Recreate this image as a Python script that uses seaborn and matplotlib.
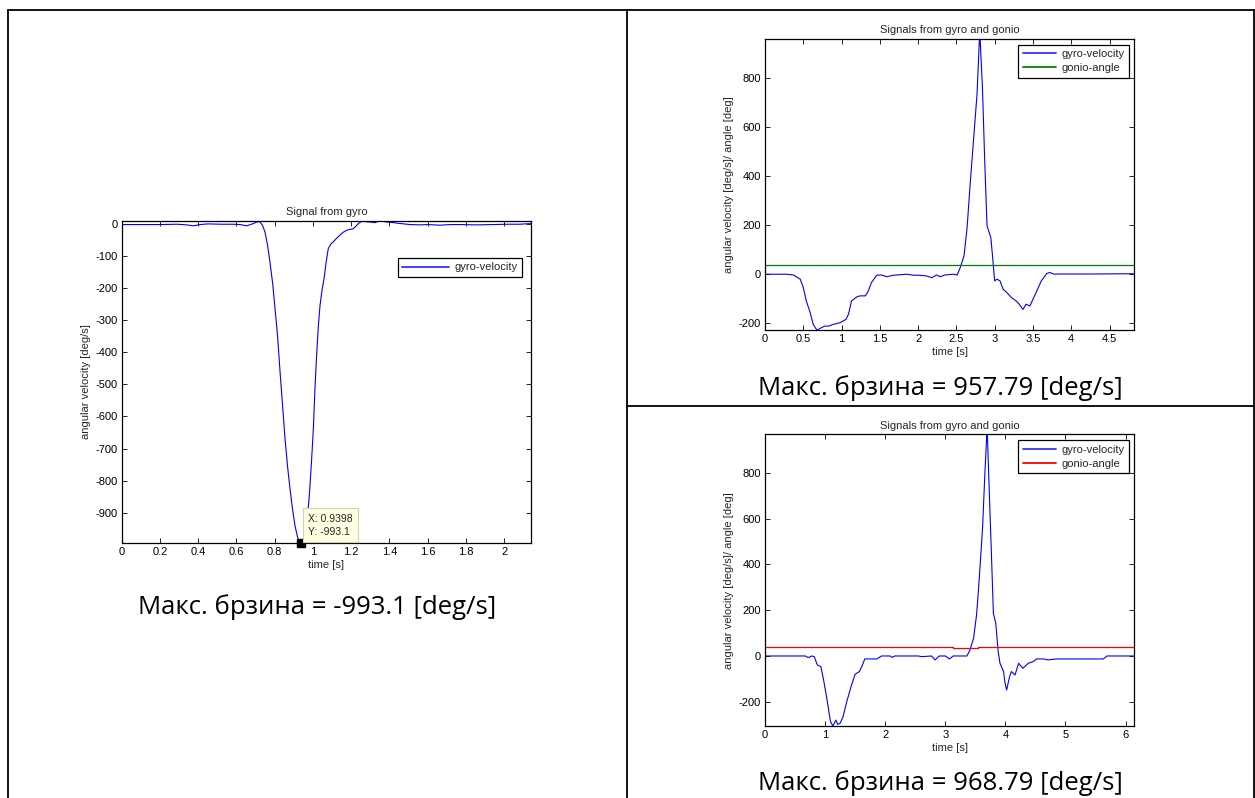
import numpy as np
import pandas as pd
import matplotlib
matplotlib.use("Agg")
import matplotlib.pyplot as plt
from matplotlib.lines import Line2D
import seaborn as sns

# ---- data ----
gyro1_t = [0, 0.10, 0.20, 0.29, 0.34, 0.375, 0.41, 0.45, 0.52, 0.584, 0.62, 0.653, 0.688, 0.71,
           0.723, 0.736, 0.749, 0.762, 0.775, 0.79, 0.80, 0.815, 0.828, 0.841, 0.854, 0.867, 0.880,
           0.893, 0.906, 0.918, 0.925, 0.9398, 0.948, 0.958, 0.970, 0.981, 0.992, 1.002, 1.010,
           1.019, 1.028, 1.037, 1.048, 1.058, 1.069, 1.080, 1.093, 1.106, 1.123, 1.141, 1.158,
           1.176, 1.193, 1.211, 1.225, 1.237, 1.255, 1.275, 1.298, 1.324, 1.350, 1.385, 1.42,
           1.46, 1.507, 1.56, 1.60, 1.664, 1.72, 1.77, 1.85, 1.94, 2.02, 2.08, 2.14]
gyro1_v = [-3, -3, -3, -2, -4, -7, -3, -1, -2, -2, -3, -7, 0, 6,
           5, -5, -26, -65, -119, -190, -254, -350, -462, -565, -670, -755, -825,
           -888, -940, -972, -985, -993.1, -985, -968, -920, -846, -745, -639, -520,
           -410, -320, -254, -205, -171, -120, -78, -64, -57, -46, -36, -27,
           -21, -18, -16, -8, 0, 7, 6, 5, 3, 9, 5, 3,
           0, -3, -4, -3, -5, -3, -3, -4, -3, -2, -2, 0]

gyro2_t = [0, 0.28, 0.37, 0.46, 0.50, 0.54, 0.59, 0.63, 0.68, 0.72, 0.78, 0.83, 0.89, 0.98, 1.06,
           1.09, 1.13, 1.20, 1.24, 1.31, 1.35, 1.39, 1.46, 1.52, 1.59, 1.68, 1.85, 1.94, 2.02,
           2.11, 2.18, 2.24, 2.29, 2.35, 2.46, 2.51, 2.55, 2.60, 2.64, 2.68, 2.72, 2.77, 2.80,
           2.81, 2.84, 2.87, 2.90, 2.95, 2.97, 3.00, 3.03, 3.07, 3.11, 3.16, 3.22, 3.29, 3.32,
           3.37, 3.41, 3.46, 3.50, 3.55, 3.61, 3.68, 3.72, 3.78, 3.83, 4.3, 4.82]
gyro2_v = [0, 0, -3, -20, -54, -109, -156, -204, -228, -220, -211, -211, -204, -197, -183,
           -163, -109, -92, -88, -88, -68, -34, -4, -3, -10, -4, 0, -4, -4,
           -7, -14, -3, -10, -3, 0, -3, 27, 75, 190, 367, 530, 734, 951,
           957.79, 761, 462, 197, 149, 81, -27, -20, -27, -61, -75, -95, -111, -122,
           -143, -122, -129, -102, -68, -27, 3, 7, 0, 1, 1, 2]
gonio2_t = [0, 4.82]
gonio2_v = [37, 37]

gyro3_t = [0, 0.67, 0.72, 0.78, 0.82, 0.87, 0.93, 0.97, 1.01, 1.05, 1.09, 1.13, 1.18, 1.21,
           1.25, 1.30, 1.36, 1.44, 1.50, 1.57, 1.61, 1.66, 1.86, 1.94, 2.08, 2.12, 2.16, 2.55,
           2.61, 2.77, 2.83, 2.90, 3.00, 3.07, 3.13, 3.36, 3.41, 3.47, 3.52, 3.55, 3.58, 3.62,
           3.66, 3.69, 3.70, 3.73, 3.77, 3.80, 3.84, 3.88, 3.91, 3.97, 3.99, 4.02, 4.07, 4.10,
           4.16, 4.22, 4.29, 4.38, 4.46, 4.52, 4.63, 4.71, 4.85, 5.63, 5.69, 6.14]
gyro3_v = [0, 0, -7, 0, -3, -39, -47, -98, -156, -221, -287, -306, -280, -299,
           -294, -265, -200, -127, -80, -68, -47, -13, -13, 0, 0, -6, 0, 0,
           -3, 0, -17, 0, 0, -13, 0, 0, 26, 77, 179, 281, 398, 558,
           806, 966, 968.79, 733, 427, 187, 143, 19, -32, -68, -112, -149, -90, -68,
           -83, -32, -54, -32, -25, -13, -13, -17, -13, -13, 0, 0]
gonio3_t = [0, 1.80, 1.80, 3.12, 3.12, 3.55, 3.55, 6.14]
gonio3_v = [38, 38, 41, 41, 35, 35, 39, 39]

x1_ticks = [0, 0.2, 0.4, 0.6, 0.8, 1, 1.2, 1.4, 1.6, 1.8, 2]
y1_ticks = [0, -100, -200, -300, -400, -500, -600, -700, -800, -900]
x2_ticks = [0, 0.5, 1, 1.5, 2, 2.5, 3, 3.5, 4, 4.5]
x3_ticks = [0, 1, 2, 3, 4, 5, 6]
y23_ticks = [-200, 0, 200, 400, 600, 800]

tip_x, tip_y = 0.9398, -993.1
captions = ["Макс. брзина = -993.1 [deg/s]",
            "Макс. брзина = 957.79 [deg/s]",
            "Макс. брзина = 968.79 [deg/s]"]

# ---- style ----
sns.set_theme(style="white")
plt.rcParams["font.family"] = ["Liberation Sans", "DejaVu Sans"]
plt.rcParams["axes.unicode_minus"] = False

W, H = 1255, 798
FS = 8
fig = plt.figure(figsize=(W / 100, H / 100), dpi=100)
fig.patch.set_facecolor("white")


def px_axes(x0, y0, x1, y1):
    return fig.add_axes([x0 / W, 1 - y1 / H, (x1 - x0) / W, (y1 - y0) / H])


def style(ax, xt, yt, t, v):
    ax.set_xlim(min(t), max(t))
    ax.set_ylim(min(v), max(v))
    ax.set_xticks(xt)
    ax.set_xticklabels(["%g" % a for a in xt])
    ax.set_yticks(yt)
    ax.set_yticklabels(["%g" % a for a in yt])
    ax.tick_params(direction="in", length=3.5, width=0.6, labelsize=FS, pad=3,
                   top=True, right=True, bottom=True, left=True, colors="black")
    for s in ax.spines.values():
        s.set_visible(True)
        s.set_linewidth(0.9)
        s.set_color("black")
    ax.set_xlabel("time [s]", fontsize=FS, labelpad=2)


def legend(ax, ax_x, ax_y, hl, colors, labels):
    handles = [Line2D([], [], color=c, linewidth=1.3) for c in colors]
    lg = ax.legend(handles, labels, loc="upper right", bbox_to_anchor=(ax_x, ax_y),
                   borderaxespad=0, fontsize=FS, frameon=True, fancybox=False, framealpha=1,
                   handlelength=hl, borderpad=0.4, labelspacing=0.35, handletextpad=0.5)
    lg.get_frame().set_edgecolor("black")
    lg.get_frame().set_linewidth(0.9)


# left: single gyro signal
ax1 = px_axes(121.7, 220.7, 531, 542.7)
df1 = pd.DataFrame({"t": gyro1_t, "v": gyro1_v})
sns.lineplot(data=df1, x="t", y="v", ax=ax1, color="#0000ff", linewidth=0.8,
             sort=False, estimator=None, legend=False)
style(ax1, x1_ticks, y1_ticks, gyro1_t, gyro1_v)
ax1.set_title("Signal from gyro", fontsize=FS, pad=4)
ax1.set_ylabel("angular velocity [deg/s]", fontsize=FS, labelpad=3)
legend(ax1, 0.978, 0.884, 4.2, ["#3333ff"], ["gyro-velocity"])
ax1.plot([tip_x], [tip_y], marker="s", color="black", markersize=5.5, clip_on=False, zorder=5)
ax1.annotate("X: %g\nY: %g" % (tip_x, tip_y), xy=(tip_x, tip_y), xytext=(5, 4),
             textcoords="offset points", ha="left", va="bottom", fontsize=7.5,
             linespacing=1.45, annotation_clip=False, zorder=6,
             bbox=dict(boxstyle="square,pad=0.5", fc="#ffffe1", ec="#d2d2b8", lw=0.8))

# right: gyro + gonio
panels = [
    ((765, 38.7, 1134, 330.3), gyro2_t, gyro2_v, gonio2_t, gonio2_v, x2_ticks, "#008000"),
    ((765, 434.3, 1134, 726), gyro3_t, gyro3_v, gonio3_t, gonio3_v, x3_ticks, "#ff0000"),
]
for box, gt, gv, nt, nv, xt, gcol in panels:
    ax = px_axes(*box)
    dfg = pd.DataFrame({"t": gt, "v": gv})
    dfn = pd.DataFrame({"t": nt, "v": nv})
    sns.lineplot(data=dfg, x="t", y="v", ax=ax, color="#0000ff", linewidth=0.8,
                 sort=False, estimator=None, legend=False)
    sns.lineplot(data=dfn, x="t", y="v", ax=ax, color=gcol, linewidth=0.9,
                 sort=False, estimator=None, legend=False)
    style(ax, xt, y23_ticks, gt, gv)
    ax.set_title("Signals from gyro and gonio", fontsize=FS, pad=4)
    ax.set_ylabel("angular velocity [deg/s]/ angle [deg]", fontsize=FS, labelpad=3)
    legend(ax, 0.9865, 0.979, 3.0, ["#3333ff", gcol], ["gyro-velocity", "gonio-angle"])

# captions under each chart
cap_font = ["Open Sans", "DejaVu Sans"]
cap_pos = [(317, 607), (940, 388), (940, 783)]
for (cx, cy), txt in zip(cap_pos, captions):
    fig.text(cx / W, 1 - cy / H, txt, ha="center", va="center", fontsize=18.5,
             family=cap_font, color="black")

# table cell borders
lw = 1.3
for xs, ys in [((8, 1254), (10, 10)), ((8, 8), (10, 798)), ((627, 627), (10, 798)),
               ((1253.5, 1253.5), (10, 798)), ((627, 1254), (405.5, 405.5))]:
    fig.add_artist(Line2D([x / W for x in xs], [1 - y / H for y in ys],
                          color="black", linewidth=lw))

fig.savefig("out.png", dpi=100, facecolor="white")
